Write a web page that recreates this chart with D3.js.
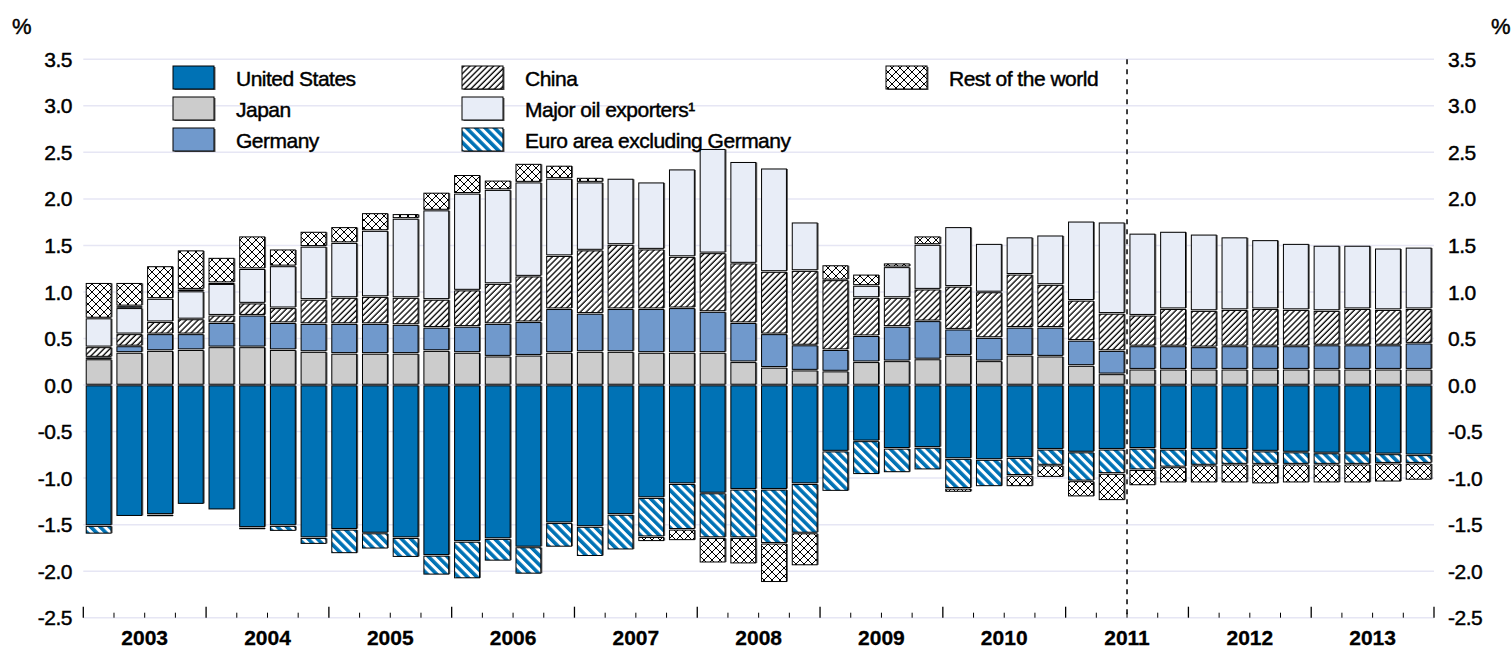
<!DOCTYPE html>
<html>
<head>
<meta charset="utf-8">
<script src="https://cdn.jsdelivr.net/npm/d3@7/dist/d3.min.js"></script>
<style>
  body { margin: 0; background: #fff; }
  svg text { font-family: "Liberation Sans", Arial, sans-serif; fill: #000; }
  svg text.lbl { stroke: #000; stroke-width: 0.45px; }
</style>
</head>
<body>
<div id="chart"></div>
<script>
// quarterly data, 2003Q1 - 2013Q4
const years = ["2003", "2004", "2005", "2006", "2007", "2008", "2009", "2010", "2011", "2012", "2013"];
const quarterNames = ["Q1", "Q2", "Q3", "Q4"];
const quarters = years.flatMap(y => quarterNames.map(q => y + q));

const unitedStates = [-1.51, -1.41, -1.39, -1.28, -1.34, -1.53, -1.51, -1.64, -1.55, -1.59, -1.64, -1.83,
  -1.68, -1.65, -1.74, -1.48, -1.52, -1.39, -1.21, -1.06, -1.16, -1.12, -1.12, -1.06,
  -0.71, -0.60, -0.68, -0.67, -0.79, -0.80, -0.78, -0.69, -0.72, -0.69, -0.68, -0.69,
  -0.69, -0.69, -0.71, -0.72, -0.73, -0.73, -0.74, -0.75];
const japan = [0.28, 0.35, 0.37, 0.38, 0.41, 0.41, 0.38, 0.36, 0.34, 0.34, 0.34, 0.37,
  0.35, 0.31, 0.32, 0.35, 0.36, 0.36, 0.35, 0.35, 0.35, 0.25, 0.19, 0.16,
  0.15, 0.25, 0.26, 0.28, 0.32, 0.26, 0.32, 0.31, 0.21, 0.12, 0.17, 0.17,
  0.17, 0.17, 0.17, 0.17, 0.17, 0.17, 0.17, 0.17];
const germany = [0.02, 0.07, 0.18, 0.17, 0.26, 0.34, 0.29, 0.30, 0.32, 0.32, 0.31, 0.25,
  0.28, 0.35, 0.36, 0.47, 0.41, 0.46, 0.47, 0.48, 0.44, 0.42, 0.36, 0.27,
  0.23, 0.28, 0.37, 0.41, 0.28, 0.25, 0.30, 0.31, 0.27, 0.25, 0.25, 0.25,
  0.24, 0.25, 0.25, 0.25, 0.26, 0.26, 0.26, 0.28];
const china = [0.11, 0.13, 0.13, 0.16, 0.08, 0.13, 0.16, 0.26, 0.28, 0.29, 0.29, 0.30,
  0.39, 0.43, 0.49, 0.57, 0.68, 0.69, 0.64, 0.55, 0.63, 0.64, 0.67, 0.80,
  0.75, 0.41, 0.31, 0.34, 0.46, 0.49, 0.57, 0.46, 0.43, 0.40, 0.33, 0.40,
  0.39, 0.39, 0.40, 0.39, 0.37, 0.39, 0.38, 0.37];
const oilExporters = [0.31, 0.28, 0.25, 0.30, 0.34, 0.37, 0.45, 0.57, 0.59, 0.71, 0.85, 0.96,
  1.04, 1.01, 1.01, 0.83, 0.73, 0.71, 0.72, 0.94, 1.12, 1.09, 1.11, 0.52,
  0.00, 0.13, 0.33, 0.48, 0.64, 0.52, 0.40, 0.53, 0.85, 0.98, 0.88, 0.83,
  0.82, 0.78, 0.74, 0.71, 0.70, 0.68, 0.66, 0.66];
const euroExGermany = [-0.09, 0.02, -0.02, 0.02, 0.01, -0.01, -0.06, -0.07, -0.26, -0.17, -0.21, -0.21,
  -0.40, -0.24, -0.29, -0.26, -0.32, -0.38, -0.42, -0.49, -0.48, -0.52, -0.58, -0.53,
  -0.43, -0.36, -0.26, -0.24, -0.32, -0.29, -0.19, -0.17, -0.31, -0.26, -0.23, -0.19,
  -0.17, -0.16, -0.14, -0.13, -0.12, -0.12, -0.10, -0.09];
const restOfWorld = [0.38, 0.25, 0.35, 0.42, 0.27, 0.35, 0.18, 0.16, 0.17, 0.19, 0.05, 0.19,
  0.20, 0.10, 0.20, 0.14, 0.05, 0.00, -0.05, -0.12, -0.27, -0.28, -0.42, -0.35,
  0.16, 0.12, 0.04, 0.09, -0.04, 0.00, -0.12, -0.13, -0.17, -0.29, -0.17, -0.17,
  -0.19, -0.20, -0.21, -0.20, -0.20, -0.20, -0.20, -0.18];

const yTicks = [3.5, 3.0, 2.5, 2.0, 1.5, 1.0, 0.5, 0.0, -0.5, -1.0, -1.5, -2.0, -2.5];
const forecastStart = "2011Q3";

const keys = ["us", "japan", "germany", "china", "oil", "euro", "row"];
const names = ["United States", "Japan", "Germany", "China", "Major oil exporters\u00b9",
  "Euro area excluding Germany", "Rest of the world"];
const seriesValues = [unitedStates, japan, germany, china, oilExporters, euroExGermany, restOfWorld];

const chartWidth = 1512, chartHeight = 648;
const plotLeft = 83.3, plotRight = 1434, plotTop = 59.3, plotBottom = 617.7;

let svg = d3.select("#chart").append("svg")
  .attr("width", chartWidth)
  .attr("height", chartHeight);

// patterns
let defs = svg.append("defs");

let pChina = defs.append("pattern").attr("id", "p-china")
  .attr("patternUnits", "userSpaceOnUse").attr("width", 4.2).attr("height", 4.2)
  .attr("patternTransform", "rotate(45)");
pChina.append("rect").attr("width", 4.2).attr("height", 4.2).attr("fill", "#fff");
pChina.append("line").attr("x1", 1).attr("x2", 1).attr("y1", 0).attr("y2", 4.2)
  .attr("stroke", "#000").attr("stroke-width", 1.3);

let pEuro = defs.append("pattern").attr("id", "p-euro")
  .attr("patternUnits", "userSpaceOnUse").attr("width", 6.6).attr("height", 6.6)
  .attr("patternTransform", "rotate(-45)");
pEuro.append("rect").attr("width", 6.6).attr("height", 6.6).attr("fill", "#fff");
pEuro.append("rect").attr("width", 3.6).attr("height", 6.6).attr("fill", "#0072b5");

let pRow = defs.append("pattern").attr("id", "p-row")
  .attr("patternUnits", "userSpaceOnUse").attr("width", 8).attr("height", 8);
pRow.append("rect").attr("width", 8).attr("height", 8).attr("fill", "#fff");
pRow.append("path").attr("d", "M0,0L8,8M8,0L0,8")
  .attr("stroke", "#000").attr("stroke-width", 1);

const fills = {
  us: "#0072b5", japan: "#cccccc", germany: "#7099cc", china: "url(#p-china)",
  oil: "#e8edf7", euro: "url(#p-euro)", row: "url(#p-row)"
};

// scales
let x = d3.scaleBand()
  .domain(quarters)
  .range([plotLeft, plotRight])
  .paddingInner(0.19)
  .paddingOuter(0.095);

let y = d3.scaleLinear()
  .domain([-2.5, 3.5])
  .range([plotBottom, plotTop]);

const step = x.step();
const boundary = q => x(q) - (step - x.bandwidth()) / 2;
const fmt = d => d3.format(".1f")(d).replace("\u2212", "-");

// gridlines
svg.append("g").selectAll("line").data(yTicks).enter()
  .append("line")
  .attr("x1", plotLeft).attr("x2", plotRight)
  .attr("y1", d => y(d)).attr("y2", d => y(d))
  .attr("stroke", "#e6e6f4").attr("stroke-width", 1.5);

// tick labels both sides
svg.append("g").selectAll("text").data(yTicks).enter()
  .append("text").attr("class", "lbl")
  .attr("x", 72).attr("y", d => y(d))
  .attr("dy", "0.36em")
  .style("text-anchor", "end")
  .style("font-size", "21px")
  .style("letter-spacing", "-0.5px")
  .text(fmt);

svg.append("g").selectAll("text").data(yTicks).enter()
  .append("text").attr("class", "lbl")
  .attr("x", 1448).attr("y", d => y(d))
  .attr("dy", "0.36em")
  .style("text-anchor", "start")
  .style("font-size", "21px")
  .style("letter-spacing", "-0.5px")
  .text(fmt);

svg.append("text").attr("class", "lbl").attr("x", 12).attr("y", 34).style("font-size", "22px").text("%");
svg.append("text").attr("class", "lbl").attr("x", 1491).attr("y", 34).style("font-size", "22px").text("%");

// stacked bars
let table = quarters.map((q, i) => {
  let row = {quarter: q};
  keys.forEach((k, j) => { row[k] = seriesValues[j][i]; });
  return row;
});

let stacked = d3.stack().keys(keys).offset(d3.stackOffsetDiverging)(table);

let barLayer = svg.append("g");
stacked.forEach(s => {
  let segs = s.filter(d => Math.abs(y(d[0]) - y(d[1])) > 0.5);
  let g = barLayer.append("g");
  g.selectAll("rect.shadow").data(segs).enter()
    .append("rect").attr("class", "shadow")
    .attr("x", d => x(d.data.quarter) + 1.5)
    .attr("y", d => y(Math.max(d[0], d[1])) + 0.8)
    .attr("width", x.bandwidth())
    .attr("height", d => Math.max(0.5, Math.abs(y(d[0]) - y(d[1])) - 1.6))
    .attr("fill", "#5a5a5a");
  g.selectAll("rect.seg").data(segs).enter()
    .append("rect").attr("class", "seg")
    .attr("x", d => x(d.data.quarter))
    .attr("y", d => y(Math.max(d[0], d[1])) + 0.8)
    .attr("width", x.bandwidth())
    .attr("height", d => Math.max(0.5, Math.abs(y(d[0]) - y(d[1])) - 1.6))
    .attr("fill", fills[s.key])
    .attr("stroke", "#000")
    .attr("stroke-width", 1);
});

// x axis ticks
let tickG = svg.append("g");
quarters.forEach((q, i) => {
  let xb = boundary(q);
  let major = i % 4 === 0;
  tickG.append("line")
    .attr("x1", xb).attr("x2", xb)
    .attr("y1", plotBottom - (major ? 11 : 5)).attr("y2", plotBottom)
    .attr("stroke", "#000").attr("stroke-width", major ? 1.3 : 1);
});
tickG.append("line")
  .attr("x1", plotRight).attr("x2", plotRight)
  .attr("y1", plotBottom - 11).attr("y2", plotBottom)
  .attr("stroke", "#000").attr("stroke-width", 1.3);

svg.append("g").selectAll("text").data(years).enter()
  .append("text")
  .attr("x", d => boundary(d + "Q1") + 2 * step)
  .attr("y", 645)
  .style("text-anchor", "middle")
  .style("font-size", "21px")
  .style("font-weight", "bold")
  .style("stroke", "#000")
  .style("stroke-width", "0.3px")
  .text(d => d);

// projection divider
svg.append("line")
  .attr("x1", boundary(forecastStart)).attr("x2", boundary(forecastStart))
  .attr("y1", plotTop).attr("y2", plotBottom)
  .attr("stroke", "#000").attr("stroke-width", 1.5)
  .attr("stroke-dasharray", "5,5");

// legend
const legendPos = [
  [173, 66], [173, 97], [173, 128],
  [462, 66], [462, 97], [462, 128],
  [886, 66]
];
let legend = svg.append("g");
keys.forEach((k, i) => {
  let [lx, ly] = legendPos[i];
  legend.append("rect")
    .attr("x", lx + 1.5).attr("y", ly + 1)
    .attr("width", 41).attr("height", 23).attr("fill", "#5a5a5a");
  legend.append("rect")
    .attr("x", lx).attr("y", ly)
    .attr("width", 41).attr("height", 23)
    .attr("fill", fills[k]).attr("stroke", "#000").attr("stroke-width", 1);
  legend.append("text").attr("class", "lbl")
    .attr("x", lx + 63).attr("y", ly + 12)
    .attr("dy", "0.36em")
    .style("font-size", "21px")
    .style("letter-spacing", "-0.5px")
    .text(names[i]);
});
</script>
</body>
</html>
